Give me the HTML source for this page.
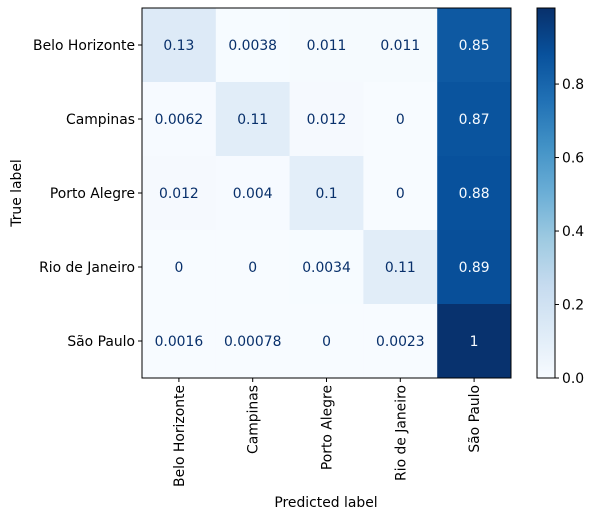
<!DOCTYPE html>
<html><head><meta charset="utf-8"><style>
body{margin:0;background:#fff;}
svg text{font-family:"DejaVu Sans","Liberation Sans",sans-serif;}
</style></head><body>
<svg id="chart" width="595" height="520" xmlns="http://www.w3.org/2000/svg"></svg>
<script>
const labels = ["Belo Horizonte","Campinas","Porto Alegre","Rio de Janeiro","São Paulo"];
const row0 = [0.13,0.0038,0.011,0.011,0.85];
const row1 = [0.0062,0.11,0.012,0,0.87];
const row2 = [0.012,0.004,0.1,0,0.88];
const row3 = [0,0,0.0034,0.11,0.89];
const row4 = [0.0016,0.00078,0,0.0023,1];
const rowLabels = ["0.13","0.0038","0.011","0.011","0.85","0.0062","0.11","0.012","0","0.87","0.012","0.004","0.1","0","0.88","0","0","0.0034","0.11","0.89","0.0016","0.00078","0","0.0023","1"];
const cbTicks = [0,0.2,0.4,0.6,0.8];
const rows=[row0,row1,row2,row3,row4];
const vmin=0, vmax=1.007;
const L=142,R=511,T=8,B=378;
const FS=13.9;
const n=labels.length, cw=(R-L)/n, ch=(B-T)/n;
const stops=["#f7fbff","#deebf7","#c6dbef","#9ecae1","#6baed6","#4292c6","#2171b5","#08519c","#08306b"];
function hex(h){return [1,3,5].map(i=>parseInt(h.substr(i,2),16));}
function cmap(t){t=Math.max(0,Math.min(1,t));const p=t*8,i=Math.min(7,Math.floor(p)),f=p-i;const a=hex(stops[i]),b=hex(stops[i+1]);return `rgb(${a.map((v,k)=>Math.round(v+(b[k]-v)*f)).join(",")})`;}
const NS="http://www.w3.org/2000/svg", svg=document.getElementById("chart");
function el(tag,attrs,parent){const e=document.createElementNS(NS,tag);for(const k in attrs)e.setAttribute(k,attrs[k]);(parent||svg).appendChild(e);return e;}
function txt(s,attrs){const e=el("text",attrs);e.textContent=s;return e;}
const xs=j=>L+cw*j, ys=i=>T+ch*i;
rows.forEach((r,i)=>r.forEach((v,j)=>{
  const c=el("rect",{x:xs(j),y:ys(i),width:cw+0.5,height:ch+0.5,fill:cmap((v-vmin)/(vmax-vmin))});
  
  
}));
rows.forEach((r,i)=>r.forEach((v,j)=>{
  const t=txt(rowLabels[i*n+j],{x:xs(j)+cw/2,y:ys(i)+ch/2+5,"text-anchor":"middle","font-size":FS,fill:v>(vmax+vmin)/2?"#f7fbff":"#08306b"});
  
  
}));
el("rect",{x:L,y:T,width:R-L,height:B-T,fill:"none",stroke:"#000","stroke-width":1});
labels.forEach((lab,i)=>{
  const y=ys(i)+ch/2;
  el("line",{x1:L-4,x2:L,y1:y,y2:y,stroke:"#000"});
  const t=txt(lab,{x:L-7,y:y+5,"text-anchor":"end","font-size":FS,fill:"#000"});
  
  
  const x=xs(i)+cw/2;
  el("line",{x1:x,x2:x,y1:B,y2:B+4,stroke:"#000"});
  const t2=txt(lab,{x:x+5,y:B+7,"text-anchor":"end","font-size":FS,fill:"#000",transform:`rotate(-90 ${x+5} ${B+7})`});
  
  
});
const yt=txt("True label",{x:21,y:193,"text-anchor":"middle","font-size":FS,transform:"rotate(-90 21 193)"});

const xt=txt("Predicted label",{x:326,y:507,"text-anchor":"middle","font-size":FS});

const CL=537,CR=555;
const defs=el("defs",{});const g=el("linearGradient",{id:"cb",x1:0,y1:1,x2:0,y2:0},defs);
for(let k=0;k<=8;k++)el("stop",{offset:k/8,"stop-color":stops[k]},g);
const cb=el("rect",{x:CL,y:T,width:CR-CL,height:B-T,fill:"url(#cb)",stroke:"#000","stroke-width":1});

cbTicks.forEach(v=>{
  const y=B-(v-vmin)/(vmax-vmin)*(B-T);
  el("line",{x1:CR,x2:CR+4,y1:y,y2:y,stroke:"#000"});
  const t=txt(v.toFixed(1),{x:CR+7,y:y+5,"font-size":FS});
  
});
</script>
</body></html>
